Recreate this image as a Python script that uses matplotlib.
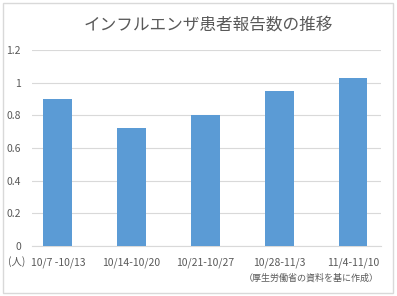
import matplotlib.pyplot as plt
from matplotlib.patches import Rectangle

plt.rcParams['font.family'] = ['Noto Sans CJK JP', 'DejaVu Sans']

weeks = ["10/7 -10/13", "10/14-10/20", "10/21-10/27", "10/28-11/3", "11/4-11/10"]
patients = [0.90, 0.72, 0.80, 0.95, 1.03]
yticks = [0, 0.2, 0.4, 0.6, 0.8, 1, 1.2]
ytick_labels = ["0", "0.2", "0.4", "0.6", "0.8", "1", "1.2"]

fig = plt.figure(figsize=(3.97, 2.96), dpi=100)
ax = fig.add_axes([32 / 397, 1 - 246 / 296, 349 / 397, 196 / 296])

# outer frame
fig.patches.append(Rectangle((3 / 397, 3 / 296), 390 / 397, 290 / 296,
                             transform=fig.transFigure, fill=False,
                             ec="#d9d9d9", lw=1))

x = range(len(weeks))
ax.bar(x, patients, width=0.39, color="#5b9bd5", zorder=3)
ax.set_xlim(-0.35, len(weeks) - 1 + 0.38)
ax.set_ylim(0, 1.2)
ax.set_yticks(yticks)
ax.set_yticklabels(ytick_labels)
ax.set_xticks(list(x))
ax.set_xticklabels(weeks)
ax.grid(axis="y", color="#d9d9d9", lw=0.8, zorder=0)
for s in ["top", "right", "left"]:
    ax.spines[s].set_visible(False)
ax.spines["bottom"].set_color("#d9d9d9")
ax.tick_params(length=0, colors="#595959", labelsize=7.5)
ax.tick_params(axis="y", pad=8)
ax.tick_params(axis="x", pad=8)

fig.text(208 / 397, 1 - 25 / 296, "インフルエンザ患者報告数の推移", ha="center", va="center",
         fontsize=12, color="#595959")
fig.text(8 / 397, 1 - 262 / 296, "(人)", ha="left", va="center", fontsize=7.5, color="#595959")
fig.text(379 / 397, 1 - 278 / 296, "（厚生労働省の資料を基に作成）", ha="right", va="center",
         fontsize=6.5, color="#595959")

fig.savefig("out.png", dpi=100)
